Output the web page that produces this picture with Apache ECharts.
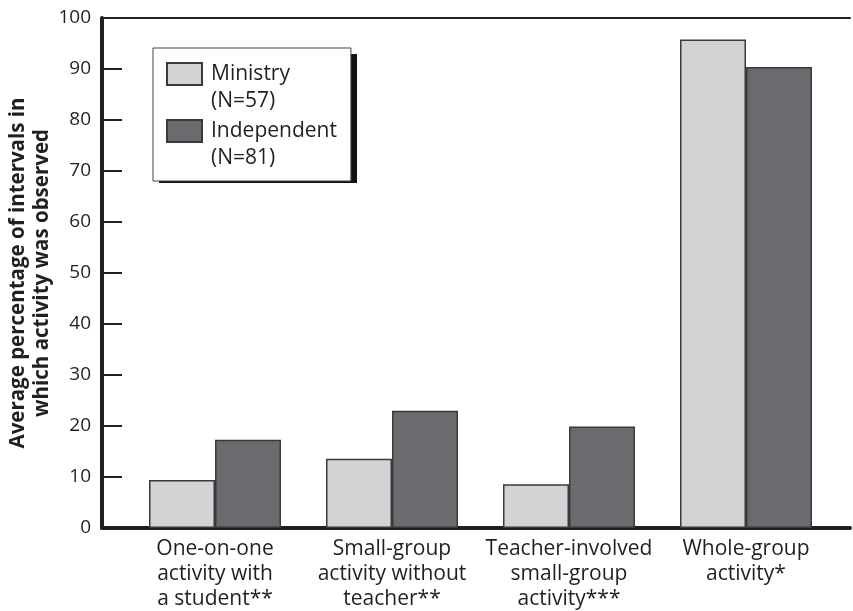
<!DOCTYPE html>
<html>
<head>
<meta charset="utf-8">
<script src="https://cdn.jsdelivr.net/npm/echarts@6/dist/echarts.min.js"></script>
<style>
html,body{margin:0;padding:0;background:#fff;}
#chart{width:853px;height:611px;}
</style>
</head>
<body>
<div id="chart"></div>
<script>
var categories = [
  'One-on-one\nactivity with\na student**',
  'Small-group\nactivity without\nteacher**',
  'Teacher-involved\nsmall-group\nactivity***',
  'Whole-group\nactivity*'
];
var seriesNames = ['Ministry\n(N=57)', 'Independent\n(N=81)'];
var ministry = [9.4, 13.6, 8.6, 95.8];
var independent = [17.3, 23.0, 19.9, 90.4];
var yTicks = [0, 10, 20, 30, 40, 50, 60, 70, 80, 90, 100];
var yTitle = 'Average percentage of intervals in\nwhich activity was observed';

var FONT = 'Open Sans';
var INK = '#231f20';
var LIGHT = '#d1d3d4';
var DARK = '#6a6b6f';
var EDGE = '#3a3a3a';

var chart = echarts.init(document.getElementById('chart'), null, {renderer: 'canvas'});
var yMin = yTicks[0], yMax = yTicks[yTicks.length - 1], yStep = yTicks[1] - yTicks[0];
var legendIcon = 'path://M0,0L0,0M0,2H35V24H0ZM0,54L0,54';

var option = {
  backgroundColor: '#fff',
  animation: false,
  textStyle: {fontFamily: FONT, color: INK},
  grid: [
    {left: 102, right: 3, top: 18, bottom: 83, containLabel: false, outerBoundsMode: 'none'},
    {left: 126.5, right: 18.5, top: 18, bottom: 83, containLabel: false, outerBoundsMode: 'none'}
  ],
  graphic: [
    {type: 'rect', z: 3, silent: true,
     shape: {x: 159, y: 54, width: 198, height: 129},
     style: {fill: '#111'}}
  ],
  xAxis: [
    {gridIndex: 0, type: 'category', data: [''], position: 'bottom',
     axisLine: {show: true, lineStyle: {color: INK, width: 4}},
     axisTick: {show: false}, axisLabel: {show: false}, splitLine: {show: false}},
    {gridIndex: 0, type: 'category', data: [''], position: 'top',
     axisLine: {show: true, lineStyle: {color: INK, width: 2}},
     axisTick: {show: false}, axisLabel: {show: false}, splitLine: {show: false}},
    {gridIndex: 1, type: 'category', data: categories,
     axisLine: {show: false}, axisTick: {show: false}, splitLine: {show: false},
     axisLabel: {show: true, interval: 0, margin: 9, fontFamily: FONT, fontSize: 21,
                 lineHeight: 25, color: INK, align: 'center'}}
  ],
  yAxis: [
    {gridIndex: 0, type: 'value', min: yMin, max: yMax, interval: yStep,
     axisLine: {show: true, onZero: false, lineStyle: {color: INK, width: 4}},
     axisTick: {show: true, inside: true, length: 20, lineStyle: {color: INK, width: 2}},
     axisLabel: {show: true, margin: 11, fontFamily: FONT, fontSize: 19, color: INK},
     splitLine: {show: false},
     name: yTitle, nameLocation: 'middle', nameGap: 48, nameMoveOverlap: false,
     nameTextStyle: {fontFamily: FONT, fontSize: 20.5, fontWeight: 'bold', color: INK, lineHeight: 24}},
    {gridIndex: 1, type: 'value', min: yMin, max: yMax, interval: yStep, show: false}
  ],
  legend: {
    show: true, orient: 'vertical', left: 153, top: 48, z: 4,
    padding: [12, 14, 8, 13], itemGap: 1,
    itemWidth: 35, itemHeight: 54, icon: legendIcon,
    selectedMode: false,
    backgroundColor: '#fff', borderColor: '#444', borderWidth: 1,
    textStyle: {fontFamily: FONT, fontSize: 21, color: INK, lineHeight: 27, padding: [0, 0, 0, 4]},
    data: seriesNames
  },
  series: [
    {name: seriesNames[0], type: 'bar', xAxisIndex: 2, yAxisIndex: 1, data: ministry,
     barWidth: 66, barGap: '0%',
     itemStyle: {color: LIGHT, borderColor: EDGE, borderWidth: 1.5}},
    {name: seriesNames[1], type: 'bar', xAxisIndex: 2, yAxisIndex: 1, data: independent,
     barWidth: 66, barGap: '0%',
     itemStyle: {color: DARK, borderColor: EDGE, borderWidth: 1.5}}
  ]
};
chart.setOption(option);
</script>
</body>
</html>
